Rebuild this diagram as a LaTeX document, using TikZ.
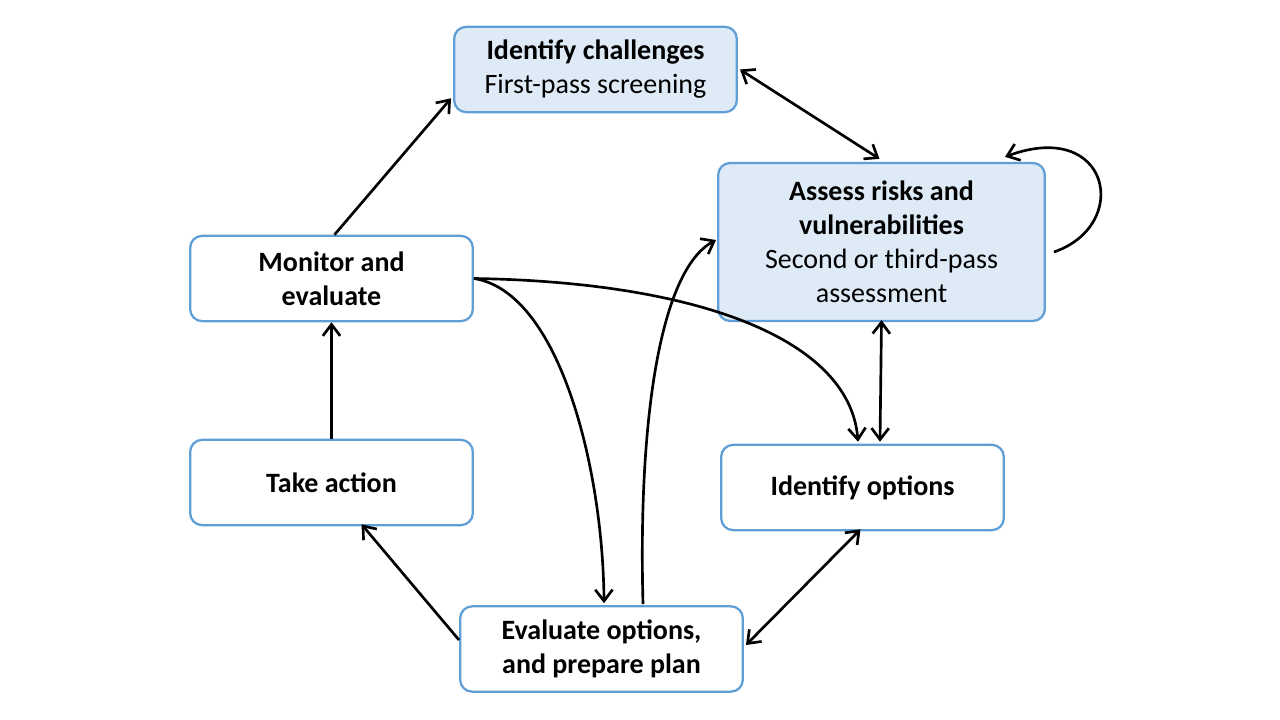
\documentclass[tikz,border=0pt]{standalone}
\usepackage{fontspec}
\setmainfont{Carlito}
\usetikzlibrary{arrows.meta,calc}
\definecolor{boxblue}{RGB}{96,158,214}
\definecolor{boxfill}{RGB}{222,235,247}
\tikzset{
  box/.style={draw=boxblue, line width=1.7pt, rounded corners=9pt, fill=white, align=center,
    minimum width=212pt, minimum height=64pt, inner sep=0pt,
    font=\fontsize{21}{25.5}\selectfont},
  bluebox/.style={box, fill=boxfill},
  tip/.tip={Straight Barb[length=8.5pt,width=13pt,line width=2pt]},
  conn/.style={line width=2pt, -tip},
  bconn/.style={line width=2pt, tip-tip},
}
\begin{document}
\begin{tikzpicture}[x=0.75pt,y=-0.75pt]
\useasboundingbox (0,0) rectangle (1280,720);
\node[bluebox] (ic) at (595.5,69.5) {\textbf{Identify challenges}\\First-pass screening};
\node[bluebox, minimum width=245pt, minimum height=118.5pt] (ar) at (881.5,242)
  {\textbf{Assess risks and}\\\textbf{vulnerabilities}\\Second or third-pass\\assessment};
\node[box] (me) at (331.5,278.5) {\textbf{Monitor and}\\\textbf{evaluate}};
\node[box] (ta) at (331.5,482.5) {\textbf{Take action}};
\node[box] (io) at (862.5,487.5) {\textbf{Identify options}};
\node[box] (ev) at (601.5,649) {\textbf{Evaluate options,}\\\textbf{and prepare plan}};

\coordinate (meR) at ($(me.east)+(0,0)$);
% straight connectors
\draw[conn] ($(me.north)+(3,0)$) -- ($(ic.south west)+(-2,-15)$);
\draw[bconn] ($(ic.east)+(2,0)$) -- ($(ar.north)+(-2,-3)$);
\draw[bconn] ($(ar.south)+(0,-2)$) -- ($(io.north)+(17.5,-2)$);
\draw[conn] (ta.north) -- (me.south);
\draw[conn] ($(ev.west)+(0,-9)$) -- ($(ta.south)+(30,-2)$);
\draw[bconn] ($(ev.east)+(2,-4)$) -- ($(io.south)+(-2,-2)$);
% curved connectors
\draw[conn] (meR) .. controls (700,282) and (850,340) .. ($(io.north)+(-4.5,-2)$);
\draw[conn] (meR) .. controls (560,292) and (603,470) .. ($(ev.north)+(2.5,-2)$);
\draw[conn] ($(ev.north)+(41.5,-1)$) .. controls (638,420) and (660,270) .. ($(ar.west)+(-1,-2)$);
\draw[conn] ($(ar.east)+(8,10)$) .. controls (1132,225) and (1110,118) .. ($(ar.north)+(123.5,-5)$);
\end{tikzpicture}
\end{document}
